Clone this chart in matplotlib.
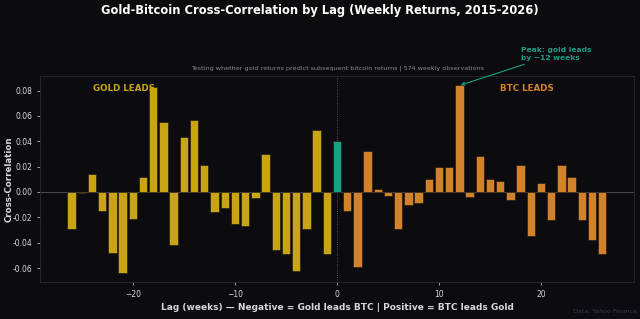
import matplotlib
matplotlib.use("Agg")
import matplotlib.pyplot as plt
import numpy as np

# lag in weeks (negative = gold leads)
lags = list(range(-26, 27))
corr = [
    -0.029, -0.001, 0.014, -0.015, -0.048, -0.064, -0.021, 0.012, 0.083, 0.055,
    -0.042, 0.043, 0.057, 0.021, -0.016, -0.013, -0.025, -0.027, -0.005, 0.030,
    -0.046, -0.049, -0.062, -0.029, 0.049, -0.049,
    0.040,
    -0.015, -0.059, 0.032, 0.002, -0.003, -0.029, -0.010, -0.009, 0.010, 0.020,
    0.020, 0.084, -0.004, 0.028, 0.010, 0.009, -0.006, 0.021, -0.035, 0.007,
    -0.022, 0.021, 0.012, -0.022, -0.038, -0.049,
]
peak_lag = 12

BG = "#0c0b10"
GOLD = "#c9a414"
ORANGE = "#d1822a"
TEAL = "#17a082"
TXT = "#d8d8d8"

colors = []
for l in lags:
    if l < 0:
        colors.append(GOLD)
    elif l == 0:
        colors.append(TEAL)
    else:
        colors.append(ORANGE)

fig = plt.figure(figsize=(6.4, 3.19), dpi=100, facecolor=BG)
ax = fig.add_axes([0.0625, 0.116, 0.928, 0.646])
ax.set_facecolor(BG)

ax.bar(lags, corr, width=0.82, color=colors, edgecolor="#111111", linewidth=0.4, zorder=3)
ax.axhline(0, color="#555555", linewidth=0.6, zorder=2)
ax.axvline(0, color="#666666", linewidth=0.6, linestyle=":", zorder=2)

ax.set_xlim(-29.1, 29.1)
ax.set_ylim(-0.071, 0.0915)
ax.set_xticks([-20, -10, 0, 10, 20])
ax.set_yticks([-0.06, -0.04, -0.02, 0.0, 0.02, 0.04, 0.06, 0.08])
ax.yaxis.set_major_formatter(matplotlib.ticker.FormatStrFormatter("%.2f"))
ax.tick_params(colors=TXT, labelsize=5.5, length=2, width=0.5)
for s in ax.spines.values():
    s.set_color("#2a2a2e")
    s.set_linewidth(0.6)

ax.set_xlabel("Lag (weeks) \u2014 Negative = Gold leads BTC | Positive = BTC leads Gold",
              color=TXT, fontsize=6.5, fontweight="bold", labelpad=3)
ax.set_ylabel("Cross-Correlation", color=TXT, fontsize=6.2, fontweight="bold")
ax.yaxis.set_label_coords(-0.045, 0.5)

ax.text(0.09, 0.94, "GOLD LEADS", transform=ax.transAxes, color=GOLD,
        fontsize=6.3, fontweight="bold", va="center", ha="left")
ax.text(0.775, 0.94, "BTC LEADS", transform=ax.transAxes, color=ORANGE,
        fontsize=6.3, fontweight="bold", va="center", ha="left")

ax.annotate("Peak: gold leads\nby ~12 weeks",
            xy=(peak_lag, corr[lags.index(peak_lag)]), xycoords="data",
            xytext=(521, 319 - 54), textcoords="figure pixels",
            color=TEAL, fontsize=5.4, fontweight="bold", va="center", ha="left",
            linespacing=1.3, annotation_clip=False,
            arrowprops=dict(arrowstyle="->", color=TEAL, lw=0.8,
                            shrinkA=2, shrinkB=1))

fig.text(0.5, 0.966, "Gold-Bitcoin Cross-Correlation by Lag (Weekly Returns, 2015-2026)",
         color="white", fontsize=8.3, fontweight="bold", ha="center", va="center")
fig.text(0.527, 0.787, "Testing whether gold returns predict subsequent bitcoin returns | 574 weekly observations",
         color="#8a8a8a", fontsize=4.6, ha="center", va="center")
fig.text(0.995, 0.025, "Data: Yahoo Finance", color="#3a3a48", fontsize=4.5,
         ha="right", va="center")

fig.savefig("out.png", dpi=100, facecolor=BG)
